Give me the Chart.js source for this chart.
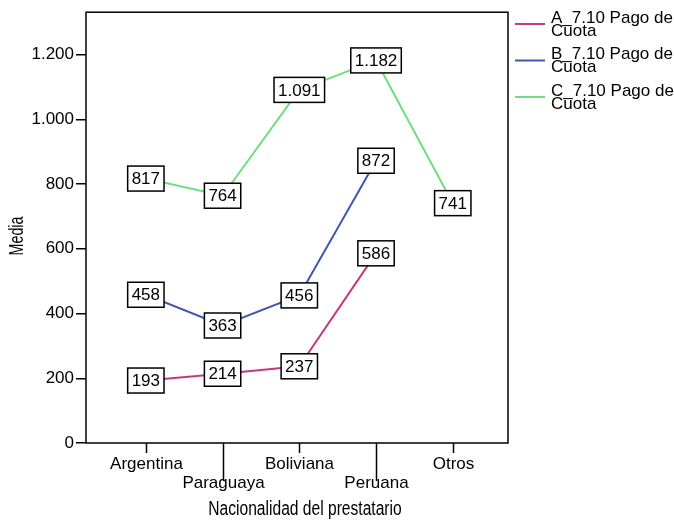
<!DOCTYPE html>
<html>
<head>
<meta charset="utf-8">
<script src="https://cdn.jsdelivr.net/npm/chart.js@4/dist/chart.umd.min.js"></script>
<style>
  html, body { margin: 0; padding: 0; background: #fff; }
  #wrap { width: 674px; height: 521px; }
</style>
</head>
<body>
<div id="wrap"><canvas id="myChart" width="674" height="521"></canvas></div>
<script>
// datos
const categorias = ['Argentina', 'Paraguaya', 'Boliviana', 'Peruana', 'Otros'];
const serieA = [193, 214, 237, 586, null];
const serieB = [458, 363, 456, 872, null];
const serieC = [817, 764, 1091, 1182, 741];
const nombres = [['A_7.10 Pago de', 'Cuota'], ['B_7.10 Pago de', 'Cuota'], ['C_7.10 Pago de', 'Cuota']];
const colores = ['#c43a82', '#3f57b0', '#6fde7e'];
const ticksY = [0, 200, 400, 600, 800, 1000, 1200];

const arial = '"Liberation Sans", Arial, sans-serif';

function fmt(v) {
    return Math.round(v).toString().replace(/\B(?=(\d{3})+(?!\d))/g, '.');
}

function puntos(arr) {
    return arr.map((v, i) => ({ x: i, y: v }));
}

const series = [serieA, serieB, serieC];

// texto estrecho (tipo Arial Narrow) escalando en horizontal
function textoEstrecho(ctx, txt, x, y, size, escala, rot) {
    ctx.save();
    ctx.translate(x, y);
    if (rot) ctx.rotate(rot);
    ctx.scale(escala, 1);
    ctx.font = size + 'px ' + arial;
    ctx.textAlign = 'center';
    ctx.textBaseline = 'middle';
    ctx.fillStyle = '#000';
    ctx.fillText(txt, 0, 0);
    ctx.restore();
}

// ejes X, etiquetas de datos, marco y leyenda
const extras = {
    id: 'extras',
    afterDatasetsDraw(chart) {
        const ctx = chart.ctx;
        const xs = chart.scales.x, ys = chart.scales.y;
        ctx.save();
        ctx.font = '17px ' + arial;
        ctx.textAlign = 'center';
        ctx.textBaseline = 'middle';
        series.forEach(arr => {
            arr.forEach((v, i) => {
                if (v === null) return;
                const px = xs.getPixelForValue(i);
                const py = ys.getPixelForValue(v);
                const txt = fmt(v);
                const w = ctx.measureText(txt).width + 8;
                const h = 25;
                ctx.fillStyle = '#fff';
                ctx.fillRect(px - w / 2, py - h / 2, w, h);
                ctx.strokeStyle = '#000';
                ctx.lineWidth = 1.5;
                ctx.strokeRect(px - w / 2, py - h / 2, w, h);
                ctx.fillStyle = '#000';
                ctx.fillText(txt, px, py + 1);
            });
        });
        ctx.restore();
    },
    afterDraw(chart) {
        const ctx = chart.ctx;
        const a = chart.chartArea;
        const xs = chart.scales.x;
        ctx.save();
        // marco
        ctx.strokeStyle = '#000';
        ctx.lineWidth = 1.5;
        ctx.strokeRect(a.left, a.top, a.right - a.left, a.bottom - a.top);
        // marcas y etiquetas del eje X
        ctx.font = '17px ' + arial;
        ctx.fillStyle = '#000';
        ctx.textAlign = 'center';
        ctx.textBaseline = 'middle';
        ctx.lineWidth = 1.5;
        categorias.forEach((c, i) => {
            const px = Math.round(xs.getPixelForValue(i)) + 0.5;
            const largo = i % 2 ? 38 : 10;
            ctx.beginPath();
            ctx.moveTo(px, a.bottom);
            ctx.lineTo(px, a.bottom + largo);
            ctx.stroke();
            ctx.fillText(c, px, a.bottom + (i % 2 ? 40 : 21));
        });
        textoEstrecho(ctx, 'Nacionalidad del prestatario', (a.left + a.right) / 2 + 8, 509, 20, 0.78, 0);
        textoEstrecho(ctx, 'Media', 17, 236, 21, 0.68, -Math.PI / 2);
        // leyenda
        ctx.textAlign = 'left';
        ctx.textBaseline = 'middle';
        ctx.font = '17px ' + arial;
        nombres.forEach((n, i) => {
            const y = 24 + i * 36.5;
            ctx.strokeStyle = colores[i];
            ctx.lineWidth = 2;
            ctx.beginPath();
            ctx.moveTo(515, y);
            ctx.lineTo(545, y);
            ctx.stroke();
            ctx.fillStyle = '#000';
            ctx.fillText(n[0], 551, y - 6);
            ctx.fillText(n[1], 551, y + 7);
        });
        ctx.restore();
    }
};

const ctx = document.getElementById('myChart').getContext('2d');
const myChart = new Chart(ctx, {
    type: 'line',
    data: {
        datasets: series.map((arr, i) => ({
            label: nombres[i].join(' '),
            data: puntos(arr),
            borderColor: colores[i],
            borderWidth: 2,
            pointRadius: 0,
            fill: false,
            spanGaps: false,
            tension: 0
        }))
    },
    options: {
        responsive: false,
        animation: false,
        layout: { padding: { top: 8, right: 166, bottom: 78, left: 0 } },
        plugins: { legend: { display: false }, tooltip: { enabled: false } },
        scales: {
            x: {
                type: 'linear',
                display: false,
                min: -0.78,
                max: 4.72
            },
            y: {
                type: 'linear',
                min: 0,
                max: 1331,
                afterBuildTicks: s => { s.ticks = ticksY.map(v => ({ value: v })); },
                afterFit: s => { s.width = 86; },
                border: { display: false },
                grid: { drawOnChartArea: false, drawTicks: true, tickLength: 10, color: '#000', lineWidth: 1.5 },
                ticks: {
                    color: '#000',
                    font: { family: arial, size: 17 },
                    padding: 2,
                    callback: v => fmt(v)
                }
            }
        }
    },
    plugins: [extras]
});
</script>
</body>
</html>
